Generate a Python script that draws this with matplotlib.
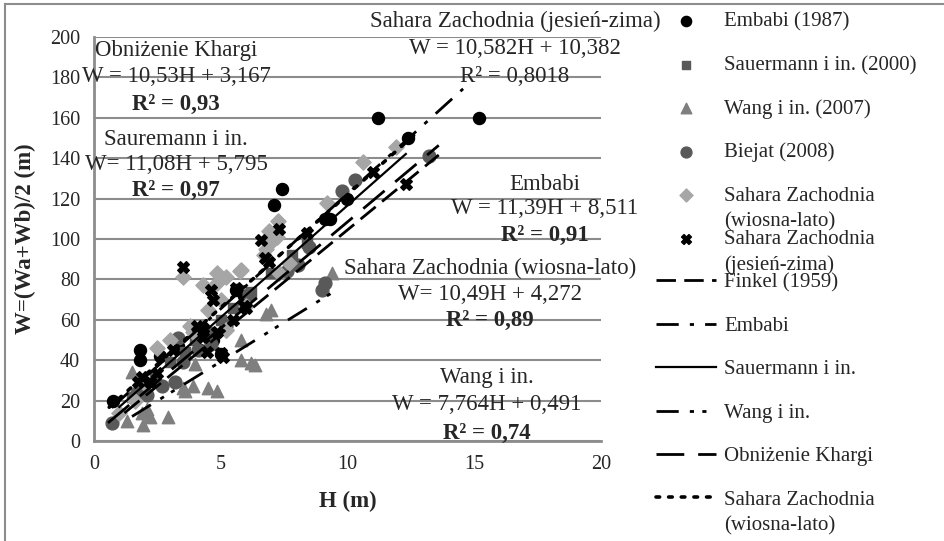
import matplotlib
matplotlib.use("Agg")
import matplotlib.pyplot as plt
import numpy as np
from matplotlib.lines import Line2D

plt.rcParams['font.family'] = ['Liberation Serif', 'DejaVu Serif']

# ---------------- data ----------------
embabi_h = [0.75, 1.8, 1.8, 2.6, 3.3, 4.2, 4.7, 5.0, 5.6, 5.9, 7.1, 7.4, 9.1, 9.3, 10.0, 11.2, 12.4, 15.2]
embabi_w = [20, 40, 45, 42, 47, 45, 50, 43, 75, 72, 117, 125, 110, 110, 120, 160, 150, 160]

sauermann_h = [1.5, 2.0, 2.4, 3.0, 3.6, 4.0, 4.5, 5.0, 5.5, 6.2, 7.0, 7.8, 8.4]
sauermann_w = [22, 28, 32, 39, 44, 50, 54, 60, 66, 74, 83, 92, 98]

wang_h = [1.3, 1.5, 1.9, 1.95, 2.1, 2.2, 2.9, 3.5, 3.6, 3.9, 4.5, 4.85, 5.8, 5.8, 6.2, 6.35, 6.8, 7.0, 9.4, 4.0]
wang_w = [10, 34, 14, 8, 16, 12, 12, 26, 25, 27, 26, 25, 40, 50, 38.5, 37.5, 63, 65, 83, 38]

biejat_h = [0.7, 1.7, 2.1, 2.7, 3.2, 3.3, 3.5, 4.1, 4.6, 5.2, 6.1, 7.6, 8.05, 8.5, 9.0, 9.1, 9.8, 10.3, 13.2]
biejat_w = [9, 24, 23, 27, 29, 51, 39, 45, 48, 57, 73, 84, 87, 96, 75, 78, 124, 129, 141]

sahara_wl_h = [1.0, 1.6, 2.0, 2.5, 3.0, 3.5, 3.8, 3.9, 4.3, 4.5, 4.85, 4.85, 5.0, 5.2, 5.2, 5.2, 5.75, 5.8,
               6.0, 6.7, 6.8, 6.9, 7.0, 7.2, 7.26, 7.3, 7.7, 9.2, 10.6, 11.9]
sahara_wl_w = [14, 20, 28, 46, 50, 81, 57, 54, 77, 65, 83, 78, 70, 81, 55, 55, 84, 84.6,
               67, 92, 95, 104, 98.5, 101, 109, 83, 88, 118, 138, 145.6]

sahara_jz_h = [1.75, 1.9, 2.2, 2.5, 3.1, 3.5, 4.05, 4.3, 4.3, 4.45, 4.6, 4.7, 4.85, 5.0, 5.1, 5.5, 5.6,
               5.9, 6.0, 6.6, 6.75, 6.9, 7.3, 8.4, 11.0, 12.3]
sahara_jz_w = [29, 31.8, 29, 33.7, 45, 86, 57, 56, 51.5, 44, 75, 70, 54, 43.4, 41.8, 60, 75.7,
               67, 66, 99.5, 90.6, 88.6, 105, 103, 133, 127]

# trend lines: label, slope, intercept, H start, H end
trend_labels = ["Finkel (1959)", "Embabi", "Sauermann i in.", "Wang i in.", "Obniżenie Khargi",
                "Sahara Zachodnia\n(wiosna-lato)"]
trend_slope = [10.3, 11.39, 11.08, 7.764, 10.53, 11.2]
trend_icpt = [1.5, 8.511, 5.795, 0.491, 3.167, 10.0]
trend_h0 = [1.2, 0.7, 1.0, 1.5, 0.55, 0.6]
trend_h1 = [13.6, 14.56, 12.3, 9.43, 13.6, 12.75]

x_ticks = [0, 5, 10, 15, 20]
y_ticks = [0, 20, 40, 60, 80, 100, 120, 140, 160, 180, 200]

# ---------------- figure ----------------
fig = plt.figure(figsize=(9.45, 5.41), dpi=100)
ax = fig.add_axes([94 / 945, 1 - 441 / 541, (601 - 94) / 945, (441 - 37) / 541])

grid_c = '#8c8c8c'
txt_c = '#262626'

ax.set_xlim(0, 20)
ax.set_ylim(0, 200)
ax.set_xticks(x_ticks)
ax.set_yticks(y_ticks)
ax.tick_params(length=0, labelsize=14.5, colors=txt_c, pad=10)
ax.yaxis.grid(True, color=grid_c, linewidth=1.5, zorder=0)
ax.set_axisbelow(True)
for s in ['top', 'right']:
    ax.spines[s].set_visible(False)
for s in ['left', 'bottom']:
    ax.spines[s].set_color(grid_c)
    ax.spines[s].set_linewidth(2)

ax.set_xlabel("H (m)", fontsize=16.5, fontweight='bold', color=txt_c, labelpad=12)
ax.set_ylabel("W=(Wa+Wb)/2 (m)", fontsize=16.5, fontweight='bold', color=txt_c, labelpad=10)

handles = []
h = ax.scatter(embabi_h, embabi_w, s=75, marker='o', color='black', zorder=3, label="Embabi (1987)")
handles.append(h)
h = ax.scatter(sauermann_h, sauermann_w, s=50, marker='s', color='#595959', zorder=3,
               label="Sauermann i in. (2000)")
handles.append(h)
h = ax.scatter(wang_h, wang_w, s=80, marker='^', color='#7f7f7f', zorder=3, label="Wang i in. (2007)")
handles.append(h)
h = ax.scatter(biejat_h, biejat_w, s=85, marker='o', color='#595959', zorder=3, label="Biejat (2008)")
handles.append(h)
h = ax.scatter(sahara_wl_h, sahara_wl_w, s=60, marker='D', color='#a6a6a6', zorder=3,
               label="Sahara Zachodnia\n(wiosna-lato)")
handles.append(h)
h = ax.scatter(sahara_jz_h, sahara_jz_w, s=70, marker='X', color='black', zorder=4,
               label="Sahara Zachodnia\n(jesień-zima)")
handles.append(h)

styles = [(0, (7, 3)), (0, (8, 4, 1.5, 4)), '-', (0, (8, 4, 1.5, 3, 1.5, 4)), (0, (10, 5)), (0, (1, 2.5))]
widths = [2.0, 2.0, 1.6, 2.0, 2.0, 2.6]
for lab, sl, ic, h0, h1, ls, lw in zip(trend_labels, trend_slope, trend_icpt, trend_h0, trend_h1, styles, widths):
    xx = np.array([h0, h1])
    ln, = ax.plot(xx, sl * xx + ic, color='black', linestyle=ls, linewidth=lw, zorder=5, label=lab,
                  dash_capstyle='round' if ls == (0, (1, 2.5)) else 'butt')
    handles.append(ln)

# ---------------- annotations ----------------
afs = 16.5

def block(xpix, ys, lines, bolds):
    for yy, s, b in zip(ys, lines, bolds):
        ax.text(xpix / 945, 1 - yy / 541, s, transform=fig.transFigure, ha='center', va='center',
                fontsize=afs, color=txt_c, fontweight='bold' if b else 'normal', zorder=6)

block(176, [50, 77, 104], ["Obniżenie Khargi", "W = 10,53H + 3,167", "R² = 0,93"], [False, False, True])
block(176, [140, 164, 190], ["Sauremann i in.", "W= 11,08H + 5,795", "R² = 0,97"], [False, False, True])
block(515, [21, 49, 77], ["Sahara Zachodnia (jesień-zima)", "W = 10,582H + 10,382", "R² = 0,8018"],
      [False, False, False])
block(545, [185, 209, 235], ["Embabi", "W = 11,39H + 8,511", "R² = 0,91"], [False, False, True])
block(490, [268, 294, 320], ["Sahara Zachodnia (wiosna-lato)", "W= 10,49H + 4,272", "R² = 0,89"],
      [False, False, True])
block(487, [378, 405, 433], ["Wang i in.", "W = 7,764H + 0,491", "R² = 0,74"], [False, False, True])

# ---------------- legend ----------------
# legend rows use the first line of every label; second lines hang below (as in Excel)
full_labels = [hd.get_label() for hd in handles]
first_lines = [lb.split("\n")[0] for lb in full_labels]
leg = fig.legend(handles=handles, labels=first_lines, loc='upper left',
                 bbox_to_anchor=(656 / 945, 1 - 12 / 541),
                 frameon=False, fontsize=15, handlelength=2.9, handletextpad=0.38,
                 labelspacing=1.145, borderpad=0, borderaxespad=0, scatterpoints=1, markerscale=0.85)
for t in leg.get_texts():
    t.set_color(txt_c)

fig.canvas.draw()
renderer = fig.canvas.get_renderer()
for t, lb in zip(leg.get_texts(), full_labels):
    parts = lb.split("\n")
    if len(parts) > 1:
        bb = t.get_window_extent(renderer)
        yc = (bb.y0 + bb.y1) / 2 - 26
        fig.text(bb.x0 / 945, yc / 541, parts[1], ha='left', va='center', fontsize=15, color=txt_c)

# figure border (left and top)
fig.add_artist(Line2D([5 / 945, 5 / 945], [0, 1 - 4 / 541], transform=fig.transFigure, color=grid_c, lw=1.5))
fig.add_artist(Line2D([5 / 945, 1], [1 - 4 / 541, 1 - 4 / 541], transform=fig.transFigure, color=grid_c, lw=1.5))

fig.savefig("out.png", dpi=100)
